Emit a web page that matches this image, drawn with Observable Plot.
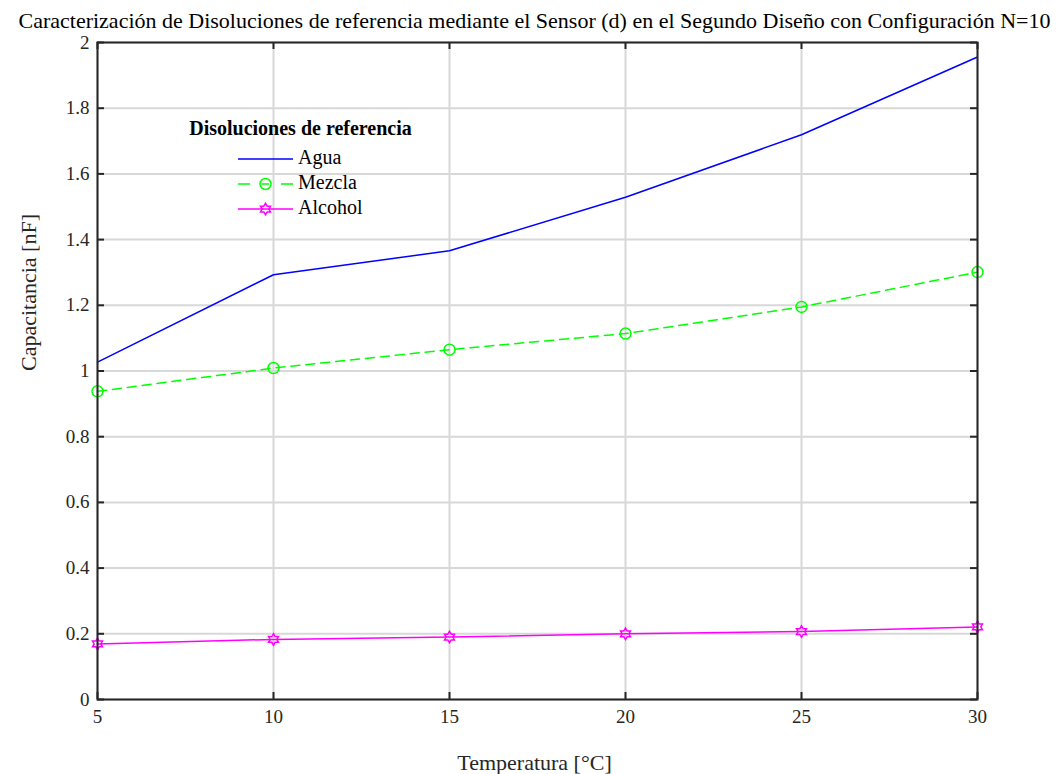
<!DOCTYPE html>
<html><head><meta charset="utf-8">
<script src="https://cdn.jsdelivr.net/npm/d3@7"></script>
<script src="https://cdn.jsdelivr.net/npm/@observablehq/plot@0.6"></script>
<style>body{margin:0;background:#fff;}</style>
</head><body><div id="chart"></div>
<script>
const temperatures = [5, 10, 15, 20, 25, 30];
const agua = [1.027, 1.293, 1.366, 1.529, 1.719, 1.956];
const mezcla = [0.938, 1.009, 1.065, 1.114, 1.195, 1.301];
const alcohol = [0.169, 0.183, 0.190, 0.200, 0.207, 0.221];
const xTicks = [5, 10, 15, 20, 25, 30];
const yTicks = [0, 0.2, 0.4, 0.6, 0.8, 1, 1.2, 1.4, 1.6, 1.8, 2];
const seriesNames = ["Agua", "Mezcla", "Alcohol"];
const titleText = "Caracterización de Disoluciones de referencia mediante el Sensor (d) en el Segundo Diseño con Configuración N=10";
const xLabel = "Temperatura [°C]";
const yLabel = "Capacitancia [nF]";
const legendTitle = "Disoluciones de referencia";

const W = 1063, H = 774, mL = 97, mR = 86, mT = 42, mB = 75;
const plotW = W - mL - mR, plotH = H - mT - mB;
const FONT = "'Liberation Serif', 'Times New Roman', serif";
const AX = "#262626";

const hexagram = {
  draw(ctx, size) {
    const R = Math.sqrt(size / Math.PI) * 1.15;
    const r = R / Math.sqrt(3);
    for (let i = 0; i < 12; i++) {
      const a = -Math.PI / 2 + i * Math.PI / 6;
      const rr = i % 2 === 0 ? R : r;
      const x = rr * Math.cos(a), y = rr * Math.sin(a);
      if (i) ctx.lineTo(x, y); else ctx.moveTo(x, y);
    }
    ctx.closePath();
  }
};

const rows = (vals) => temperatures.map((t, i) => ({t, v: vals[i]}));
const dAgua = rows(agua), dMezcla = rows(mezcla), dAlcohol = rows(alcohol);

const chart = Plot.plot({
  width: W, height: H,
  marginLeft: mL, marginRight: mR, marginTop: mT, marginBottom: mB,
  style: {fontFamily: FONT, background: "#fff", overflow: "visible"},
  x: {domain: [5, 30]},
  y: {domain: [0, 2]},
  marks: [
    Plot.gridX(xTicks, {stroke: "#d8d8d8", strokeOpacity: 1, strokeWidth: 2}),
    Plot.gridY(yTicks, {stroke: "#d8d8d8", strokeOpacity: 1, strokeWidth: 2}),
    Plot.line(dAgua, {x: "t", y: "v", stroke: "#0000ff", strokeWidth: 1.5}),
    Plot.line(dMezcla, {x: "t", y: "v", stroke: "#00ff00", strokeWidth: 1.5, strokeDasharray: "9,6"}),
    Plot.dot(dMezcla, {x: "t", y: "v", r: 5.5, stroke: "#00ff00", strokeWidth: 1.5, fill: "none"}),
    Plot.line(dAlcohol, {x: "t", y: "v", stroke: "#ff00ff", strokeWidth: 1.5}),
    Plot.dot(dAlcohol, {x: "t", y: "v", r: 5, symbol: hexagram, stroke: "#ff00ff", strokeWidth: 1.5, fill: "none"}),
    Plot.frame({stroke: AX, strokeWidth: 2}),
    Plot.ruleX(xTicks, {x: d => d, insetTop: plotH - 7, stroke: AX, strokeWidth: 2}),
    Plot.ruleX(xTicks, {x: d => d, insetBottom: plotH - 7, stroke: AX, strokeWidth: 2}),
    Plot.ruleY(yTicks, {y: d => d, insetRight: plotW - 7, stroke: AX, strokeWidth: 2}),
    Plot.ruleY(yTicks, {y: d => d, insetLeft: plotW - 7, stroke: AX, strokeWidth: 2}),
    Plot.axisX(xTicks, {tickSize: 0, tickPadding: 10, fontSize: 19, fill: AX, label: null, tickFormat: d => String(d)}),
    Plot.axisY(yTicks, {tickSize: 0, tickPadding: 8, fontSize: 19, fill: AX, label: null, tickFormat: d => String(+d.toFixed(1))}),
    Plot.text([titleText], {frameAnchor: "top", lineAnchor: "middle", dy: -22, dx: -3, fontSize: 22, fill: "#000"}),
    Plot.text([xLabel], {frameAnchor: "bottom", lineAnchor: "middle", dy: 63, dx: -3, fontSize: 22, fill: AX}),
    Plot.text([yLabel], {frameAnchor: "left", lineAnchor: "middle", dx: -69, rotate: -90, fontSize: 22, fill: AX})
  ]
});

// Legend (inside the plot area, upper left)
const svg = d3.select(chart);
const lg = svg.append("g").attr("font-family", FONT).attr("text-anchor", "start");
lg.append("text").attr("x", 300.5).attr("y", 130).attr("text-anchor", "middle").attr("dominant-baseline", "middle")
  .attr("font-size", 20).attr("font-weight", "bold").attr("fill", "#000").text(legendTitle);
const legendStyles = [
  {color: "#0000ff", symbol: null},
  {color: "#00ff00", symbol: "circle"},
  {color: "#ff00ff", symbol: "hex"}
];
seriesNames.forEach((name, i) => {
  const y = 159 + i * 25;
  const s = legendStyles[i];
  lg.append("line").attr("x1", 238).attr("x2", 293).attr("y1", y).attr("y2", y)
    .attr("stroke", s.color).attr("stroke-width", 1.5).attr("stroke-dasharray", i === 1 ? "12,12,7,12,12" : null);
  if (s.symbol === "circle") {
    lg.append("circle").attr("cx", 265.5).attr("cy", y).attr("r", 5.5).attr("fill", "none").attr("stroke", s.color).attr("stroke-width", 1.5);
  } else if (s.symbol === "hex") {
    const p = d3.path(); hexagram.draw(p, Math.PI * 25);
    lg.append("path").attr("d", p.toString()).attr("transform", `translate(265.5,${y})`).attr("fill", "none").attr("stroke", s.color).attr("stroke-width", 1.5);
  }
  lg.append("text").attr("x", 298).attr("y", y).attr("text-anchor", "start").attr("dominant-baseline", "middle")
    .attr("font-size", 20).attr("fill", "#000").text(name);
});

document.getElementById("chart").appendChild(chart);
</script>
</body></html>
